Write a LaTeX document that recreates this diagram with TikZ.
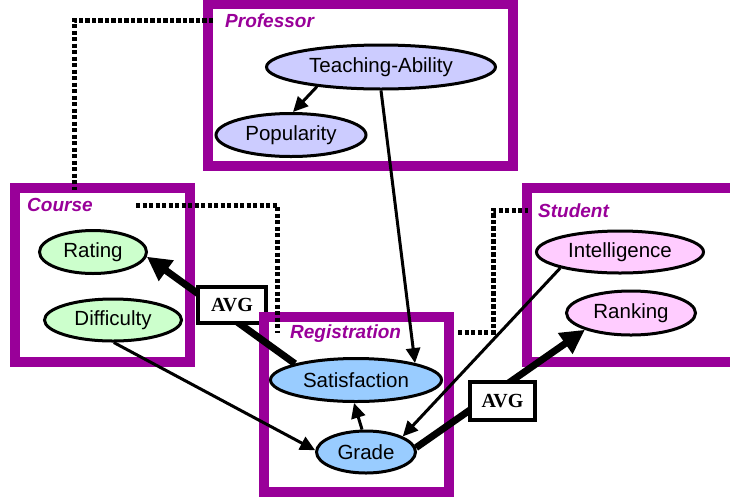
\documentclass[tikz,border=0pt]{standalone}
\usepackage{fontspec}
\setmainfont{Liberation Sans}
\newfontfamily\avgfont{Liberation Serif}
\usetikzlibrary{shapes.geometric,arrows.meta}
\definecolor{boxpurple}{HTML}{990099}
\definecolor{proffill}{HTML}{CCCCFF}
\definecolor{coursefill}{HTML}{CCFFCC}
\definecolor{studfill}{HTML}{FFCCFF}
\definecolor{regfill}{HTML}{99CCFF}
\tikzset{
  classbox/.style={draw=boxpurple, line width=9.5pt},
  classlabel/.style={text=boxpurple, font=\fontsize{19}{22}\selectfont\bfseries\itshape, anchor=base west, inner sep=0},
  attr/.style={ellipse, draw=black, line width=3pt, inner sep=0, font=\fontsize{20.5}{23}\selectfont},
  avgbox/.style={draw=black, fill=white, line width=4.5pt, inner sep=0, font=\avgfont\bfseries\fontsize{20}{22}\selectfont},
  thinarrow/.style={draw=black, line width=3pt, -{Triangle[length=15pt,width=14pt]}},
  thickarrow/.style={draw=black, line width=7pt, -{Triangle[length=24pt,width=24pt]}},
  dotlink/.style={draw=black, line width=5pt, dash pattern=on 4.3pt off 2.2pt}
}
\begin{document}
\begin{tikzpicture}[x=1pt,y=-1pt]
\useasboundingbox (0,0) rectangle (730,499);
% class boxes
\draw[classbox] (208,4) rectangle (513,166);
\draw[classbox] (15,188) rectangle (190,362);
\draw[classbox] (745,188) -- (527,188) -- (527,362) -- (745,362);
\draw[classbox] (264,317) rectangle (449,492);
% labels
\node[classlabel] (lprof) at (225,27) {Professor};
\node[classlabel] (lcourse) at (27,211) {Course};
\node[classlabel] (lstud) at (538,217) {Student};
\node[classlabel] (lreg) at (290,338) {Registration};
% attributes
\node[attr, fill=proffill, minimum width=229pt, minimum height=44pt] (ta) at (381,67) {Teaching-Ability};
\node[attr, fill=proffill, minimum width=150pt, minimum height=43pt] (pop) at (291,135) {Popularity};
\node[attr, fill=coursefill, minimum width=107pt, minimum height=43pt] (rating) at (93,252) {Rating};
\node[attr, fill=coursefill, minimum width=137pt, minimum height=42pt] (diff) at (113,320) {Difficulty};
\node[attr, fill=studfill, minimum width=167pt, minimum height=42pt] (int) at (620,252) {Intelligence};
\node[attr, fill=studfill, minimum width=129pt, minimum height=44pt] (rank) at (631,313) {Ranking};
\node[attr, fill=regfill, minimum width=171pt, minimum height=43pt] (sat) at (356,380) {Satisfaction};
\node[attr, fill=regfill, minimum width=99pt, minimum height=42pt] (grade) at (366,452) {Grade};
% dotted links
\coordinate (p1) at (213,20);
\coordinate (p2) at (74,20);
\coordinate (p3) at (74,190);
\draw[dotlink] (p1) -- (p2) -- (p3);
\coordinate (c1) at (136,205);
\coordinate (c2) at (277,205);
\coordinate (c3) at (277,333);
\draw[dotlink] (c1) -- (c2) -- (c3);
\coordinate (s1) at (458,332);
\coordinate (s2) at (493,332);
\coordinate (s3) at (493,210);
\coordinate (s4) at (528,210);
\draw[dotlink] (s1) -- (s2) -- (s3) -- (s4);
% aggregated dependencies
\draw[thickarrow] (sat.165) -- (rating.355);
\node[avgbox, minimum width=68pt, minimum height=36pt] (avg1) at (232,305) {AVG};
\draw[thickarrow] (grade.5) -- (rank.200);
\node[avgbox, minimum width=65pt, minimum height=38pt] (avg2) at (502.5,401) {AVG};
% registration border over AVG corner
\begin{scope}
\clip (avg1.north west) rectangle (avg1.south east);
\draw[classbox] (264,317) rectangle (449,492);
\end{scope}
% simple dependencies
\draw[thinarrow] (ta.197) -- (pop.85);
\draw[thinarrow] (ta.270) -- (sat.16);
\draw[thinarrow] (diff.272) -- (grade.178);
\draw[thinarrow] (grade.100) -- (sat.265);
\draw[thinarrow] (int.195) -- (grade.23);
\end{tikzpicture}
\end{document}
